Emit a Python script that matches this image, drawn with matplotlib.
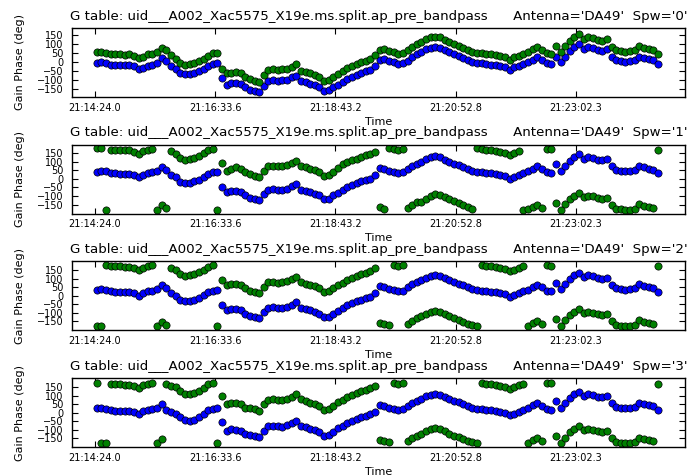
import numpy as np
import matplotlib
matplotlib.use("Agg")
import matplotlib.pyplot as plt
from matplotlib.ticker import FixedLocator, FixedFormatter

# ---- data -----------------------------------------------------------------
TABLE = "uid___A002_Xac5575_X19e.ms.split.ap_pre_bandpass"
ANTENNA = "DA49"
SPWS = ["0", "1", "2", "3"]
TICK_LABELS = ["21:14:24.0", "21:16:33.6", "21:18:43.2", "21:20:52.8", "21:23:02.3"]
T_START = "21:14:26.0"   # first solution time
T_STEP = 5.0             # seconds between solutions

# gain phase (deg), polarization 0 (blue) and 1 (green), per spw
phase_spw0_pol0 = [
    -3, -2, -8, -14, -17, -18, -19, -17, -22, -38,
    -33, -20, -14, -5, 20, 5, -22, -38, -58, -68,
    -66, -60, -52, -38, -20, -9, -5, -90, -124, -118,
    -115, -122, -140, -152, -160, -168, -132, -102, -100, -104,
    -99, -98, -84, -78, -106, -112, -122, -128, -140, -158,
    -156, -140, -124, -110, -92, -80, -70, -58, -50, -42,
    -22, 10, 18, 4, -2, -10, -4, 8, 28, 42,
    55, 70, 80, 84, 78, 66, 54, 44, 34, 24,
    12, 2, -4, -8, -12, -14, -16, -22, -26, -42,
    -30, -20, -10, -2, 14, 28, 12, -6, -10, 30,
    2, 30, 60, 82, 98, 72, 82, 78, 68, 62,
    70, 28, 10, 4, 2, 4, 10, 30, 24, 18,
    12, -10]
phase_spw0_pol1 = [
    53, 55, 52, 44, 42, 42, 40, 42, 36, 22,
    30, 42, 46, 56, 80, 66, 38, 18, -6, -14,
    -12, -6, 4, 16, 36, 50, 52, -36, -62, -58,
    -56, -62, -82, -96, -104, -110, -72, -44, -40, -44,
    -40, -38, -26, -12, -48, -56, -62, -70, -80, -102,
    -98, -84, -66, -52, -34, -20, -10, 0, 8, 16,
    38, 66, 74, 60, 54, 46, 52, 64, 84, 98,
    112, 126, 136, 140, 136, 122, 110, 100, 90, 80,
    68, 58, 52, 48, 44, 42, 40, 34, 30, 14,
    26, 36, 46, 54, 70, 84, 68, 50, 46, 86,
    58, 86, 116, 138, 154, 128, 138, 134, 124, 118,
    126, 84, 66, 60, 58, 60, 66, 86, 80, 74,
    68, 46]

phase_spw1_pol0 = [
    42, 46, 44, 34, 32, 31, 30, 30, 22, 8,
    24, 34, 38, 46, 70, 52, 24, 8, -16, -24,
    -22, -14, -4, 12, 30, 38, 42, -46, -78, -72,
    -70, -78, -96, -110, -118, -124, -88, -62, -60, -64,
    -62, -56, -44, -30, -62, -70, -78, -86, -96, -118,
    -114, -96, -80, -64, -48, -34, -24, -14, -6, 2,
    22, 62, 56, 48, 40, 34, 38, 56, 74, 88,
    100, 114, 124, 130, 124, 112, 100, 88, 78, 68,
    58, 48, 42, 38, 34, 32, 28, 22, 16, 2,
    12, 24, 34, 44, 60, 72, 56, 38, 36, 84,
    46, 76, 106, 126, 142, 118, 126, 122, 112, 108,
    114, 72, 52, 46, 44, 46, 52, 76, 66, 60,
    54, 32]
phase_spw1_pol1 = [
    176, 178, -178, 170, 168, 167, 166, 166, 158, 144,
    160, 168, 172, -178, -154, -170, 160, 144, 120, 110,
    114, 122, 132, 148, 166, 174, -178, 90, 48, 60,
    66, 58, 40, 26, 18, 12, 48, 74, 76, 72,
    74, 80, 92, 106, 74, 66, 58, 50, 40, 18,
    22, 40, 62, 84, 96, 108, 116, 126, 136, 146,
    158, -166, -172, 178, 174, 170, 172, -170, -150, -136,
    -132, -114, -100, -90, -92, -104, -116, -128, -140, -150,
    -164, -176, 178, 174, 170, 168, 164, 158, 152, 138,
    148, 160, -178, -174, -164, -152, -168, 174, 172, -140,
    -178, -148, -118, -98, -82, -106, -98, -102, -112, -116,
    -110, -152, -172, -176, -178, -178, -172, -148, -158, -164,
    -170, 168]

phase_spw2_pol0 = [
    34, 37, 35, 26, 24, 23, 22, 21, 14, 0,
    15, 26, 30, 38, 61, 44, 16, 0, -24, -32,
    -30, -22, -12, 4, 22, 30, 34, -54, -86, -80,
    -78, -86, -104, -118, -126, -132, -96, -70, -68, -72,
    -70, -64, -52, -38, -70, -78, -86, -94, -104, -126,
    -122, -104, -88, -72, -56, -42, -32, -22, -14, -6,
    14, 54, 48, 40, 32, 26, 30, 48, 66, 80,
    92, 106, 116, 122, 116, 104, 92, 80, 70, 60,
    50, 40, 34, 30, 26, 24, 20, 14, 8, -6,
    4, 16, 26, 36, 52, 64, 48, 30, 28, 76,
    38, 68, 98, 118, 134, 110, 118, 114, 104, 100,
    106, 64, 44, 38, 36, 38, 44, 68, 58, 52,
    46, 24]
phase_spw2_pol1 = [
    -178, -176, 179, 174, 172, 171, 170, 169, 162, 148,
    163, 174, 178, -174, -151, -168, 164, 148, 124, 116,
    118, 126, 136, 152, 170, 178, -178, 94, 62, 68,
    70, 62, 44, 30, 22, 16, 52, 78, 80, 76,
    78, 84, 96, 110, 78, 70, 62, 54, 44, 22,
    26, 44, 60, 76, 92, 106, 116, 126, 134, 142,
    162, -158, -164, -172, 178, 174, 178, -164, -146, -132,
    -120, -106, -96, -90, -96, -108, -120, -132, -142, -152,
    -162, -172, -178, 178, 174, 172, 168, 162, 156, 142,
    152, 164, 174, -176, -160, -148, -164, 178, 176, -136,
    -174, -144, -114, -94, -78, -102, -94, -98, -108, -112,
    -106, -148, -168, -174, -176, -174, -168, -144, -154, -160,
    -166, 172]

phase_spw3_pol0 = [
    27, 30, 26, 16, 14, 13, 12, 10, 4, -8,
    10, 18, 22, 30, 52, 16, 6, -4, -26, -42,
    -45, -40, -26, -6, 16, 26, 32, -56, -104, -96,
    -98, -104, -124, -128, -134, -142, -104, -76, -74, -78,
    -80, -72, -60, -46, -74, -84, -96, -102, -112, -138,
    -132, -112, -90, -76, -62, -48, -38, -26, -18, -8,
    6, 46, 40, 32, 24, 18, 22, 40, 58, 72,
    84, 98, 108, 114, 108, 96, 84, 72, 62, 52,
    42, 32, 26, 22, 18, 16, 12, 6, 0, -14,
    -4, 8, 18, 28, 44, 56, 40, 22, 20, 68,
    30, 60, 90, 110, 126, 102, 110, 106, 96, 92,
    98, 56, 36, 30, 28, 30, 36, 60, 50, 44,
    38, 16]
phase_spw3_pol1 = [
    176, -178, -176, 172, 170, 168, 167, 165, 159, 147,
    165, 173, 177, -175, -153, 171, 161, 151, 129, 113,
    110, 115, 129, 149, 171, 178, -176, 99, 51, 59,
    57, 51, 31, 27, 21, 13, 51, 79, 81, 77,
    75, 83, 95, 109, 81, 71, 59, 53, 43, 17,
    23, 43, 65, 79, 93, 107, 117, 129, 137, 147,
    161, -159, -165, -173, 179, 173, 177, -165, -147, -133,
    -121, -107, -97, -91, -97, -109, -121, -133, -143, -153,
    -163, -173, -179, 177, 173, 171, 167, 161, 155, 141,
    151, 163, 173, -177, -161, -149, -165, 177, 175, -137,
    -175, -145, -115, -95, -79, -103, -95, -99, -109, -113,
    -107, -149, -169, -175, -177, -175, -169, -145, -155, -161,
    -167, 171]

PHASES = {
    "0": (phase_spw0_pol0, phase_spw0_pol1),
    "1": (phase_spw1_pol0, phase_spw1_pol1),
    "2": (phase_spw2_pol0, phase_spw2_pol1),
    "3": (phase_spw3_pol0, phase_spw3_pol1),
}
YLIMS = {"0": (-193, 188), "1": (-202, 198), "2": (-202, 200), "3": (-201, 205)}
YTICKS = [-150, -100, -50, 0, 50, 100, 150]


def hms_to_sec(text):
    h, m, s = text.split(":")
    return int(h) * 3600 + int(m) * 60 + float(s)


tick_pos = [hms_to_sec(t) for t in TICK_LABELS]
t0 = hms_to_sec(T_START)

# ---- figure ---------------------------------------------------------------
W, H = 692, 476
fig = plt.figure(figsize=(W / 100, H / 100), dpi=100, facecolor="white")

left_px, right_px = 72, 685
panel_h = 69
x_lo = tick_pos[0] - 24.8
x_hi = tick_pos[0] + 636.2

BLUE = (0.0, 0.0, 1.0)
GREEN = (0.0, 0.5, 0.0)

for i, spw in enumerate(SPWS):
    top_px = 28 + 116.7 * i
    ax = fig.add_axes([left_px / W, 1 - (top_px + panel_h) / H,
                       (right_px - left_px) / W, panel_h / H])
    pol0, pol1 = PHASES[spw]
    t_a = t0 + T_STEP * np.arange(len(pol0))
    t_b = t0 + T_STEP * np.arange(len(pol1))
    ax.plot(t_a, pol0, "o", ls="none", color=BLUE, mec="black", mew=0.5, ms=5.2)
    ax.plot(t_b, pol1, "o", ls="none", color=GREEN, mec="black", mew=0.5, ms=5.2)

    ax.set_xlim(x_lo, x_hi)
    ax.set_ylim(*YLIMS[spw])
    ax.xaxis.set_major_locator(FixedLocator(tick_pos))
    ax.xaxis.set_major_formatter(FixedFormatter(TICK_LABELS))
    ax.set_yticks(YTICKS)
    ax.tick_params(direction="in", top=True, right=True, length=4, width=0.8,
                   labelsize=7, colors="black")
    ax.tick_params(axis="x", pad=4)
    ax.tick_params(axis="y", pad=6)
    for sp in ax.spines.values():
        sp.set_linewidth(1.0)
        sp.set_color("black")

    ax.set_xlabel("Time", fontsize=8, labelpad=3)
    ax.set_ylabel("Gain Phase (deg)", fontsize=8)
    ax.yaxis.set_label_coords(-0.077, 0.5)
    ax.set_title(f"G table: {TABLE}      Antenna='{ANTENNA}'  Spw='{spw}'",
                 fontsize=9.6, pad=6)

fig.savefig("out.png", dpi=100, facecolor="white")
